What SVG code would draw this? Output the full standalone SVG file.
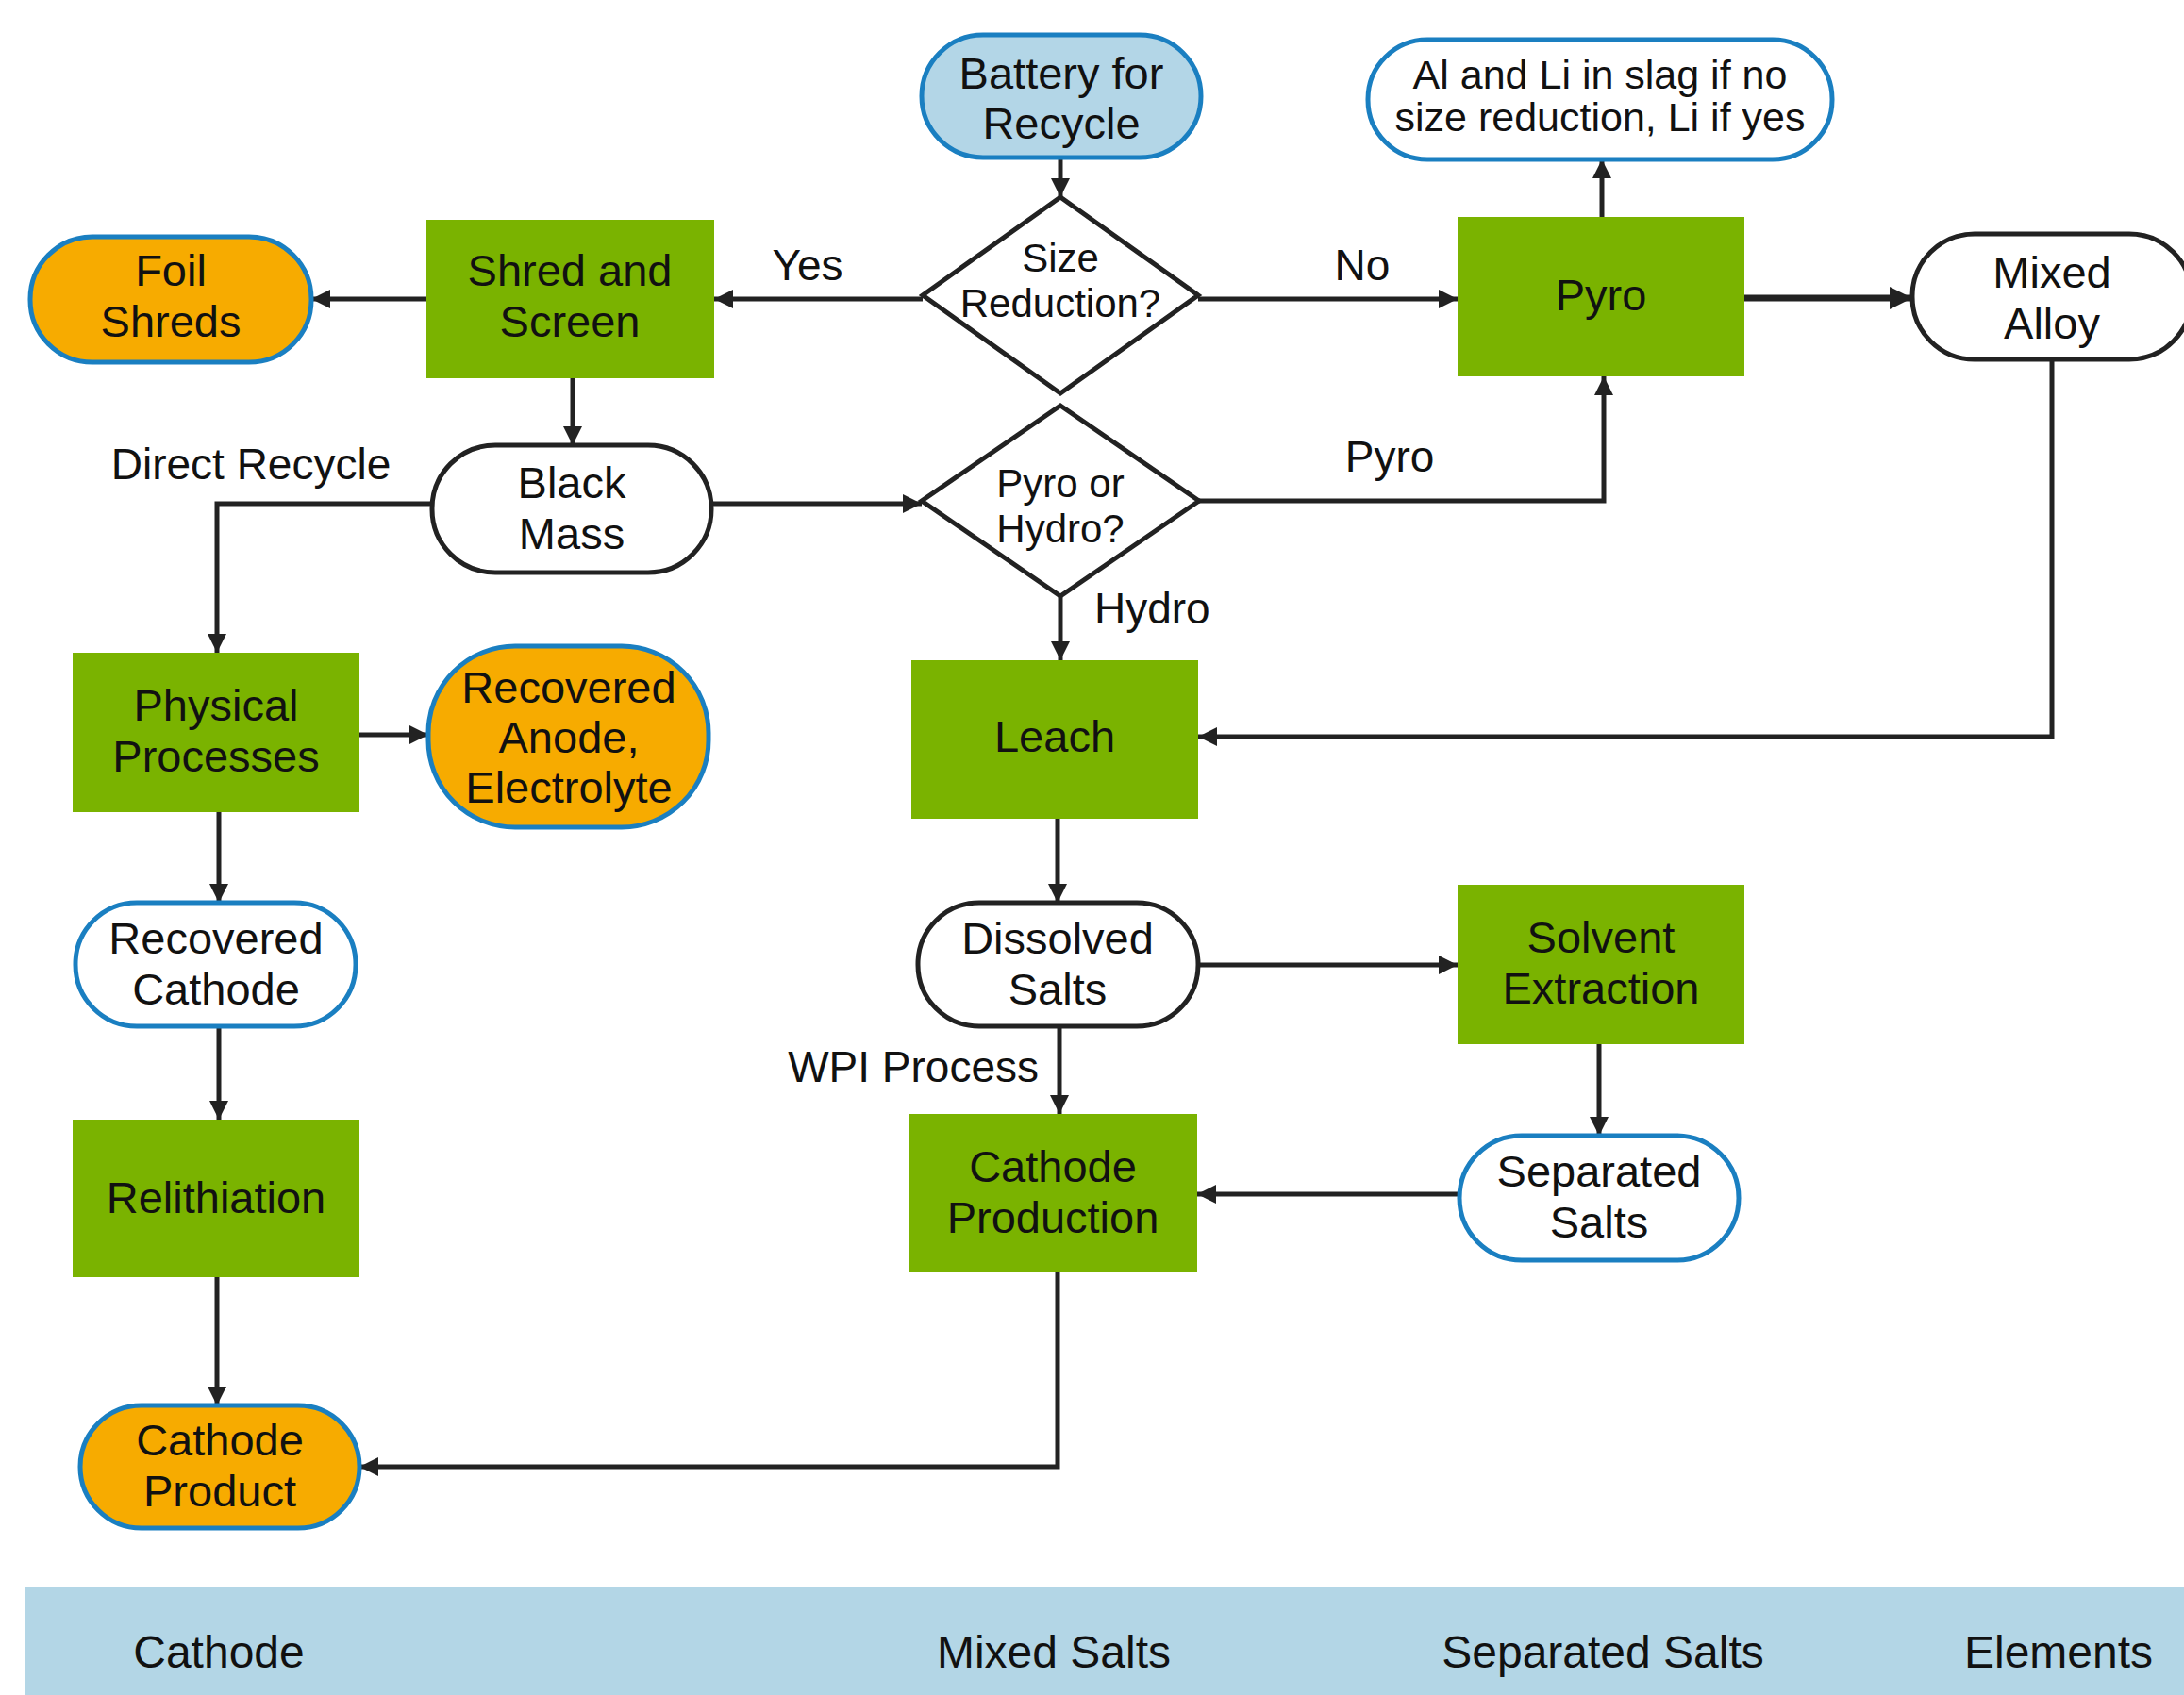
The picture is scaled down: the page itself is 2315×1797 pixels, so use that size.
<svg xmlns="http://www.w3.org/2000/svg" width="2315" height="1797" viewBox="0 0 2315 1797">
<style>
text{font-family:"Liberation Sans",Arial,sans-serif;fill:#111;}
.t{font-size:47px;text-anchor:middle;}
.d{font-size:42px;text-anchor:middle;}
.s{font-size:43px;text-anchor:middle;}
.l{font-size:46px;}
.b{font-size:48px;text-anchor:middle;}
.proc{fill:#7ab300;}
.orange{fill:#f7ab00;stroke:#1a7fc1;stroke-width:5;}
.blue{fill:#fff;stroke:#1a7fc1;stroke-width:5;}
.black{fill:#fff;stroke:#222;stroke-width:5;}
.start{fill:#b3d6e7;stroke:#1a7fc1;stroke-width:5;}
.c{fill:none;stroke:#222;stroke-width:5;marker-end:url(#ah);}
.thick{stroke-width:7;marker-end:url(#ahb);}
</style>
<defs>
<marker id="ah" viewBox="0 0 10 10" refX="10" refY="5" markerWidth="20" markerHeight="20" markerUnits="userSpaceOnUse" orient="auto">
<path d="M0,0 L10,5 L0,10 z" fill="#222"/>
</marker>
<marker id="ahb" viewBox="0 0 10 10" refX="10" refY="5" markerWidth="24" markerHeight="24" markerUnits="userSpaceOnUse" orient="auto">
<path d="M0,0 L10,5 L0,10 z" fill="#222"/>
</marker>
</defs>
<rect width="2315" height="1797" fill="#fff"/>
<g id="band">
<rect x="27" y="1682" width="2290" height="115" fill="#b3d6e6"/>
<text class="b" x="232" y="1768">Cathode</text>
<text class="b" x="1117" y="1768">Mixed Salts</text>
<text class="b" x="1699" y="1768">Separated Salts</text>
<text class="b" x="2182" y="1768">Elements</text>
</g>
<g id="connectors">
<path class="c" d="M1124,167 V209"/>
<path class="c" d="M978,317 H757"/>
<path class="c" d="M1270,317 H1545"/>
<path class="c" d="M452,317 H330"/>
<path class="c" d="M1698,230 V169"/>
<path class="c thick" d="M1849,316 H2027"/>
<path class="c" d="M607,401 V472"/>
<path class="c" d="M458,534 H230 V692"/>
<path class="c" d="M754,534 H977"/>
<path class="c" d="M1271,531 H1700 V399"/>
<path class="c" d="M1124,632 V700"/>
<path class="c" d="M2175,381 V781 H1270"/>
<path class="c" d="M381,779 H454"/>
<path class="c" d="M232,861 V957"/>
<path class="c" d="M1121,868 V957"/>
<path class="c" d="M232,1088 V1187"/>
<path class="c" d="M1270,1023 H1545"/>
<path class="c" d="M1695,1107 V1204"/>
<path class="c" d="M1123,1088 V1181"/>
<path class="c" d="M1547,1266 H1269"/>
<path class="c" d="M230,1354 V1490"/>
<path class="c" d="M1121,1349 V1555 H381"/>
</g>
<g id="labels">
<text class="l" x="856" y="297" text-anchor="middle">Yes</text>
<text class="l" x="1444" y="297" text-anchor="middle">No</text>
<text class="l" x="1473" y="500" text-anchor="middle">Pyro</text>
<text class="l" x="1160" y="661">Hydro</text>
<text class="l" x="266" y="508" text-anchor="middle">Direct Recycle</text>
<text class="l" x="1101" y="1147" text-anchor="end">WPI Process</text>
</g>
<g id="battery">
<rect class="start" x="977" y="37" width="296" height="130" rx="65"/>
<text class="t"><tspan x="1125" y="94">Battery for</tspan><tspan x="1125" y="147">Recycle</tspan></text>
</g>
<g id="sizeReduction">
<polygon class="black" points="1124,209 1270,313 1124,417 978,313"/>
<text class="d"><tspan x="1124" y="288">Size</tspan><tspan x="1124" y="336">Reduction?</tspan></text>
</g>
<g id="shred">
<rect class="proc" x="452" y="233" width="305" height="168"/>
<text class="t"><tspan x="604" y="303">Shred and</tspan><tspan x="604" y="357">Screen</tspan></text>
</g>
<g id="foil">
<rect class="orange" x="32" y="251" width="298" height="133" rx="66"/>
<text class="t"><tspan x="181" y="303">Foil</tspan><tspan x="181" y="357">Shreds</tspan></text>
</g>
<g id="pyro">
<rect class="proc" x="1545" y="230" width="304" height="169"/>
<text class="t" x="1697" y="329">Pyro</text>
</g>
<g id="slag">
<rect class="blue" x="1450" y="42" width="492" height="127" rx="63"/>
<text class="s"><tspan x="1696" y="94">Al and Li in slag if no</tspan><tspan x="1696" y="139">size reduction, Li if yes</tspan></text>
</g>
<g id="mixedAlloy">
<rect class="black" x="2027" y="248" width="296" height="133" rx="66"/>
<text class="t"><tspan x="2175" y="305">Mixed</tspan><tspan x="2175" y="359">Alloy</tspan></text>
</g>
<g id="blackMass">
<rect class="black" x="458" y="472" width="296" height="135" rx="67"/>
<text class="t"><tspan x="606" y="528">Black</tspan><tspan x="606" y="582">Mass</tspan></text>
</g>
<g id="pyroOrHydro">
<polygon class="black" points="1124,430 1271,531 1124,632 977,531"/>
<text class="d"><tspan x="1124" y="527">Pyro or</tspan><tspan x="1124" y="575">Hydro?</tspan></text>
</g>
<g id="physical">
<rect class="proc" x="77" y="692" width="304" height="169"/>
<text class="t"><tspan x="229" y="764">Physical</tspan><tspan x="229" y="818">Processes</tspan></text>
</g>
<g id="recAnode">
<rect class="orange" x="454" y="685" width="297" height="192" rx="92"/>
<text class="t"><tspan x="603" y="745">Recovered</tspan><tspan x="603" y="798">Anode,</tspan><tspan x="603" y="851">Electrolyte</tspan></text>
</g>
<g id="leach">
<rect class="proc" x="966" y="700" width="304" height="168"/>
<text class="t" x="1118" y="797">Leach</text>
</g>
<g id="recCathode">
<rect class="blue" x="80" y="957" width="297" height="131" rx="65"/>
<text class="t"><tspan x="229" y="1011">Recovered</tspan><tspan x="229" y="1065">Cathode</tspan></text>
</g>
<g id="dissolved">
<rect class="black" x="973" y="957" width="297" height="131" rx="65"/>
<text class="t"><tspan x="1121" y="1011">Dissolved</tspan><tspan x="1121" y="1065">Salts</tspan></text>
</g>
<g id="solvent">
<rect class="proc" x="1545" y="938" width="304" height="169"/>
<text class="t"><tspan x="1697" y="1010">Solvent</tspan><tspan x="1697" y="1064">Extraction</tspan></text>
</g>
<g id="separated">
<rect class="blue" x="1547" y="1204" width="296" height="132" rx="66"/>
<text class="t"><tspan x="1695" y="1258">Separated</tspan><tspan x="1695" y="1312">Salts</tspan></text>
</g>
<g id="cathodeProduction">
<rect class="proc" x="964" y="1181" width="305" height="168"/>
<text class="t"><tspan x="1116" y="1253">Cathode</tspan><tspan x="1116" y="1307">Production</tspan></text>
</g>
<g id="relithiation">
<rect class="proc" x="77" y="1187" width="304" height="167"/>
<text class="t" x="229" y="1286">Relithiation</text>
</g>
<g id="cathodeProduct">
<rect class="orange" x="85" y="1490" width="296" height="130" rx="65"/>
<text class="t"><tspan x="233" y="1543">Cathode</tspan><tspan x="233" y="1597">Product</tspan></text>
</g>
</svg>
